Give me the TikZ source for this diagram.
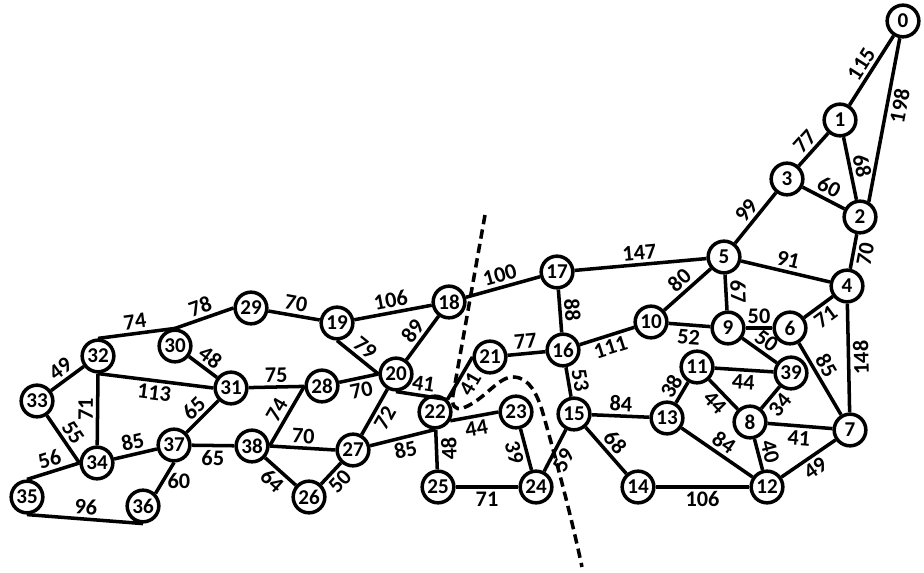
\documentclass[tikz,border=0pt]{standalone}
\usepackage{fontspec}
\setmainfont{Carlito}
\usepackage{tikz}
\tikzset{
  vertex/.style={
    circle, draw, line width=3pt, minimum size=0.95cm,
    inner sep=0pt, fill=white, font=\bfseries\fontsize{18}{20}\selectfont
  },
  every edge/.style={draw, line width=3pt},
  wtext/.style={inner sep=2.5pt, font=\bfseries\fontsize{19}{21}\selectfont},
  weight/.style={wtext, sloped},
  cutline/.style={line width=3pt, dash pattern=on 8pt off 4.5pt},
}
\begin{document}
\begin{tikzpicture}[x=0.03cm, y=-0.03cm]
  \useasboundingbox (0,0) rectangle (924,573);

  % vertices
  \node[vertex] (0) at (903,21) {0};
  \node[vertex] (1) at (840,120) {1};
  \node[vertex] (2) at (860,217) {2};
  \node[vertex] (3) at (787,179) {3};
  \node[vertex] (4) at (847,286) {4};
  \node[vertex] (5) at (724,257) {5};
  \node[vertex] (6) at (790,328) {6};
  \node[vertex] (7) at (850,430) {7};
  \node[vertex] (8) at (750,422) {8};
  \node[vertex] (9) at (728,328) {9};
  \node[vertex] (10) at (651,322) {10};
  \node[vertex] (11) at (697,367) {11};
  \node[vertex] (12) at (767,487) {12};
  \node[vertex] (13) at (667,418) {13};
  \node[vertex] (14) at (638,487) {14};
  \node[vertex] (15) at (574,414) {15};
  \node[vertex] (16) at (563,350) {16};
  \node[vertex] (17) at (557,272) {17};
  \node[vertex] (18) at (449,302) {18};
  \node[vertex] (19) at (337,323) {19};
  \node[vertex] (20) at (396,374) {20};
  \node[vertex] (21) at (490,357) {21};
  \node[vertex] (22) at (435,412) {22};
  \node[vertex] (23) at (516,412) {23};
  \node[vertex] (24) at (536,487) {24};
  \node[vertex] (25) at (438,487) {25};
  \node[vertex] (26) at (309,497) {26};
  \node[vertex] (27) at (353,450) {27};
  \node[vertex] (28) at (322,386) {28};
  \node[vertex] (29) at (251,308) {29};
  \node[vertex] (30) at (175,346) {30};
  \node[vertex] (31) at (231,388) {31};
  \node[vertex] (32) at (98,356) {32};
  \node[vertex] (33) at (37,401) {33};
  \node[vertex] (34) at (97,463) {34};
  \node[vertex] (35) at (27,497) {35};
  \node[vertex] (36) at (143,506) {36};
  \node[vertex] (37) at (174,445) {37};
  \node[vertex] (38) at (252,446) {38};
  \node[vertex] (39) at (791,373) {39};

  % right part
  \path (0) edge node[weight, above] {115} (1)
        (0) edge node[weight, below, pos=0.4] {198} (2.60)
        (1) edge node[weight, above] {68} (2)
        (1) edge node[weight, above] {77} (3)
        (3) edge node[weight, above] {60} (2)
        (3) edge node[weight, above] {99} (5)
        (2) edge node[weight, below] {70} (4)
        (5) edge node[weight, above] {91} (4)
        (17) edge node[weight, above] {147} (5)
        (10) edge node[weight, above] {80} (5)
        (5) edge node[weight, above] {67} (9)
        (10) edge node[weight, below] {52} (9)
        (9) edge node[weight, above] {50} (6)
        (6) edge node[weight, below] {71} (4)
        (7) edge node[weight, below, allow upside down] {148} (4)
        (6) edge node[weight, above, pos=0.4] {85} (7)
        (9) edge node[weight, above] {50} (39)
        (11) edge node[weight, below] {44} (39)
        (11) edge node[weight, below] {44} (8)
        (13) edge node[weight, above] {38} (11)
        (8) edge node[weight, below] {34} (39)
        (8) edge node[weight, below] {41} (7)
        (8) edge node[weight, above] {40} (12)
        (12) edge node[weight, below] {49} (7)
        (13) edge node[weight, above] {84} (12)
        (15) edge node[weight, above] {84} (13)
        (15) edge node[weight, above] {68} (14)
        (14) edge node[weight, below] {106} (12);

  % middle part
  \path (16) edge node[weight, above] {53} (15)
        (24) edge node[weight, below, pos=0.4] {59} (15)
        (16) edge node[weight, below] {111} (10)
        (17) edge node[weight, above] {88} (16)
        (18) edge node[weight, above] {100} (17)
        (21) edge node[weight, above] {77} (16)
        (22.north east) edge node[weight, below] {41} (21.west)
        (22.-30) edge node[weight, below] {44} (23.west)
        (23) edge node[weight, below] {39} (24)
        (25) edge node[weight, below, allow upside down] {48} (22)
        (25) edge node[weight, below] {71} (24)
        (20.south) edge node[weight, above] {41} (22.north east)
        (27) edge node[weight, below] {85} (22.south)
        (27) edge node[weight, below] {72} (20)
        (20) edge node[weight, above] {89} (18)
        (19) edge node[weight, above] {106} (18)
        (19.south) edge node[weight, above] {79} (20.west)
        (28) edge node[weight, below] {70} (20.west);

  % left part
  \path (29) edge node[weight, above] {70} (19)
        (30.north) edge node[weight, above] {78} (29.west)
        (32.north) edge node[weight, above] {74} (30.north)
        (30) edge node[weight, above] {48} (31)
        (32.south) edge node[weight, below] {113} (31.west)
        (31) edge node[weight, above] {75} (28)
        (37) edge node[weight, above] {65} (31)
        (38.east) edge node[weight, above] {74} (28.west)
        (38.east) edge node[weight, above] {70} (27.west)
        (38) edge node[weight, below] {64} (26)
        (26) edge node[weight, below] {50} (27)
        (37) edge node[weight, below] {65} (38)
        (34) edge node[weight, above] {85} (37)
        (34) edge node[weight, above] {71} (32.south)
        (33) edge node[weight, above] {49} (32)
        (33) edge node[weight, above] {55} (34.west)
        (34.west) edge node[weight, above] {56} (35.north)
        (35.south) edge node[weight, above] {96} (36.south)
        (37.south) edge node[wtext, right, pos=0.6] {60} (36.north east);

  % cut
  \draw[cutline] (485,215) -- (453,395)
    .. controls (451,405) and (455,411) .. (463,408)
    .. controls (485,400) and (498,376) .. (514,377)
    .. controls (530,378) and (537,395) .. (542,410)
    .. controls (552,445) and (570,510) .. (582,567);
\end{tikzpicture}
\end{document}
